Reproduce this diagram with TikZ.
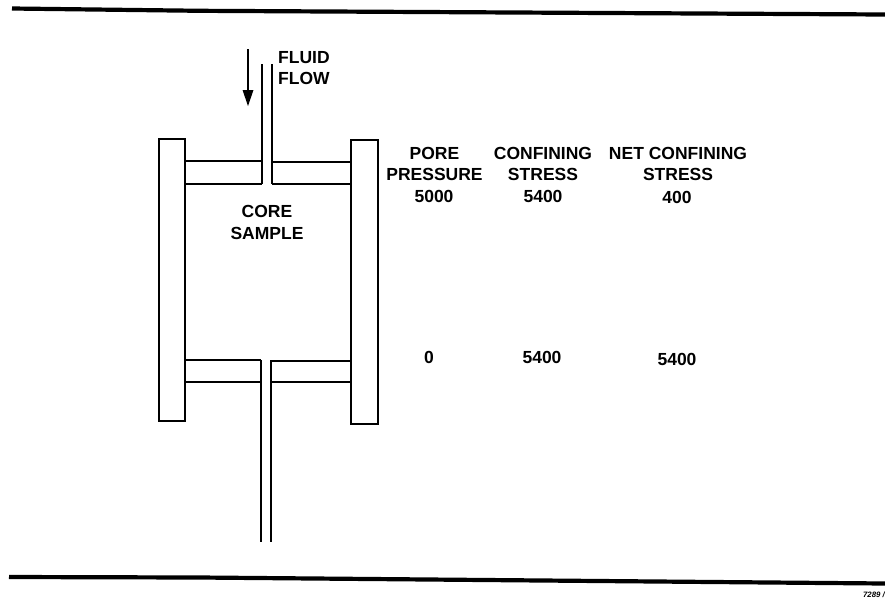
\documentclass[tikz,border=0pt]{standalone}
\usepackage{fontspec}
\setmainfont{Liberation Sans}
\tikzset{
  wall/.style={line width=1.7pt,black},
  rule/.style={line width=4.2pt,black},
  lab/.style={font=\fontsize{17.5}{21.5}\selectfont\bfseries,align=center,inner sep=0pt,text=black}
}
\begin{document}
\begin{tikzpicture}[x=1pt,y=-1pt,line cap=butt]
\useasboundingbox (0,0) rectangle (885,598);
\draw[rule] (12,8.5) -- (200,10.8) -- (885,14.5);
\draw[rule] (9,577) -- (200,577.5) -- (885,583.5);
% plates
\draw[wall] (159,139) rectangle (185,421);
\draw[wall] (351,140) rectangle (378,424);
% top arms and pipe
\draw[wall] (185,161) -- (262,161);
\draw[wall] (185,184) -- (262,184);
\draw[wall] (262,64) -- (262,184);
\draw[wall] (272,64) -- (272,184);
\draw[wall] (272,162) -- (351,162);
\draw[wall] (272,184) -- (351,184);
% bottom arms and pipe
\draw[wall] (184,360) -- (261,360);
\draw[wall] (184,382) -- (261,382);
\draw[wall] (261,360) -- (261,542);
\draw[wall] (271,360) -- (271,542);
\draw[wall] (271,361) -- (351,361);
\draw[wall] (271,382) -- (351,382);
% arrow
\coordinate (fa) at (248,49);
\coordinate (fb) at (248,106);
\draw[wall] (fa) -- (248,95);
\fill (fb) -- (242.5,90) -- (253.5,90) -- cycle;
% labels
\node[lab,align=left,anchor=west] (fluid) at (278,68) {FLUID\\FLOW};
\node[lab] (core) at (267,222.5) {CORE\\SAMPLE};
\node[lab] (pore) at (434.5,164) {PORE\\PRESSURE};
\node[lab] (p1) at (434,196) {5000};
\node[lab] (conf) at (543,164) {CONFINING\\STRESS};
\node[lab] (c1) at (543,196) {5400};
\node[lab] (net) at (678,164) {NET CONFINING\\STRESS};
\node[lab] (n1) at (677,197) {400};
\node[lab] (p2) at (429,357) {0};
\node[lab] (c2) at (542,357.5) {5400};
\node[lab] (n2) at (677,359) {5400};
\node[font=\fontsize{7.8}{8}\selectfont\bfseries\itshape,inner sep=0pt,anchor=east] (ref) at (885,595) {7289 /};
\end{tikzpicture}
\end{document}
